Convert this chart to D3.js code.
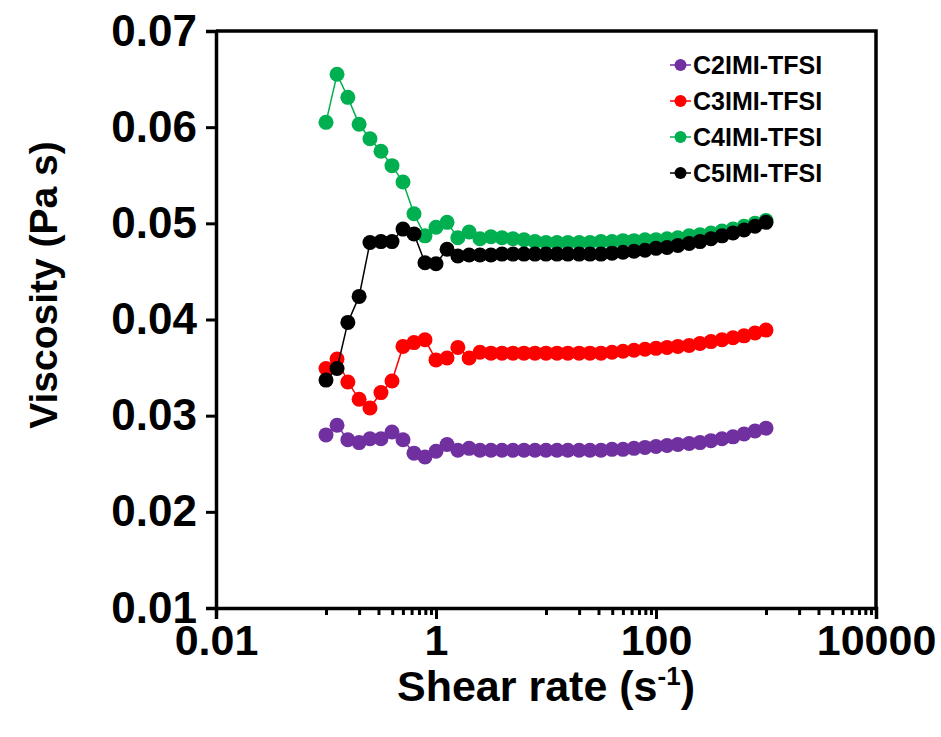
<!DOCTYPE html>
<html>
<head>
<meta charset="utf-8">
<script src="https://cdn.jsdelivr.net/npm/d3@7"></script>
<style>
  body { margin: 0; background: #fff; }
  text { font-family: Arial, 'Liberation Sans', sans-serif; font-weight: bold; }
</style>
</head>
<body>
<svg id="chart" width="941" height="737"></svg>
<script>
// shear rate points (s^-1), 10 per decade
let shearRate = [
  0.1, 0.126, 0.158, 0.2, 0.251, 0.316, 0.398, 0.501, 0.631, 0.794,
  1, 1.26, 1.58, 2, 2.51, 3.16, 3.98, 5.01, 6.31, 7.94,
  10, 12.6, 15.8, 20, 25.1, 31.6, 39.8, 50.1, 63.1, 79.4,
  100, 126, 158, 200, 251, 316, 398, 501, 631, 794, 1000,
]
let c2 = [
  0.0280, 0.0290, 0.0275, 0.0272, 0.0276, 0.0276, 0.0283, 0.0275, 0.0261, 0.0257,
  0.0263, 0.0270, 0.0264, 0.0266, 0.0264, 0.0264, 0.0264, 0.0264, 0.0264, 0.0264,
  0.0264, 0.0264, 0.0264, 0.0264, 0.0264, 0.0264, 0.0265, 0.0265, 0.0266, 0.0267,
  0.0268, 0.0269, 0.0270, 0.0271, 0.0272, 0.0274, 0.0276, 0.0278, 0.0281, 0.0284, 0.0287,
]
let c3 = [
  0.0349, 0.0359, 0.0335, 0.0317, 0.0308, 0.0324, 0.0336, 0.0372, 0.0376, 0.0379,
  0.0358, 0.0360, 0.0371, 0.0360, 0.0366, 0.0365, 0.0365, 0.0365, 0.0365, 0.0365,
  0.0365, 0.0365, 0.0365, 0.0365, 0.0365, 0.0365, 0.0366, 0.0367, 0.0368, 0.0369,
  0.0370, 0.0371, 0.0372, 0.0373, 0.0375, 0.0377, 0.0379, 0.0381, 0.0383, 0.0386, 0.0389,
]
let c4 = [
  0.0605, 0.0655, 0.0631, 0.0603, 0.0588, 0.0575, 0.0560, 0.0543, 0.0510, 0.0487,
  0.0496, 0.0501, 0.0485, 0.0491, 0.0484, 0.0486, 0.0485, 0.0484, 0.0483, 0.0481,
  0.0480, 0.0480, 0.0480, 0.0480, 0.0480, 0.0481, 0.0481, 0.0482, 0.0482, 0.0483,
  0.0483, 0.0484, 0.0485, 0.0487, 0.0488, 0.0490, 0.0492, 0.0494, 0.0497, 0.0500, 0.0503,
]
let c5 = [
  0.0337, 0.0349, 0.0397, 0.0424, 0.0480, 0.0481, 0.0481, 0.0494, 0.0489, 0.0459,
  0.0458, 0.0473, 0.0466, 0.0467, 0.0467, 0.0467, 0.0468, 0.0468, 0.0468, 0.0468,
  0.0468, 0.0468, 0.0468, 0.0468, 0.0468, 0.0468, 0.0469, 0.0470, 0.0471, 0.0472,
  0.0474, 0.0475, 0.0477, 0.0479, 0.0481, 0.0484, 0.0487, 0.0490, 0.0493, 0.0497, 0.0501,
]
let seriesNames = ['C2IMI-TFSI', 'C3IMI-TFSI', 'C4IMI-TFSI', 'C5IMI-TFSI']
let seriesColors = ['#7030a0', '#ff0000', '#00b050', '#000000']
let xMajor = [0.01, 1, 100, 10000]
let xMinor = [0.1, 0.2, 0.3, 0.4, 0.5, 0.6, 0.7, 0.8, 0.9,
  10, 20, 30, 40, 50, 60, 70, 80, 90,
  1000, 2000, 3000, 4000, 5000, 6000, 7000, 8000, 9000]
let yTicks = [0.01, 0.02, 0.03, 0.04, 0.05, 0.06, 0.07]

let series = [c2, c3, c4, c5].map(function(vals, i) {
  return {
    name: seriesNames[i],
    color: seriesColors[i],
    values: vals.map(function(v, j) { return { x: shearRate[j], y: v } }),
  }
})

let margin = { left: 216, top: 31, right: 65, bottom: 129 }
let svg = d3.select('#chart')
let W = +svg.attr('width') - margin.left - margin.right
let H = +svg.attr('height') - margin.top - margin.bottom

let x = d3.scaleLog().domain([0.01, 10000]).range([0, W])
let y = d3.scaleLinear().domain([0.01, 0.07]).range([H, 0])

let g = svg.append('g').attr('transform', 'translate(' + margin.left + ',' + margin.top + ')')

// plot frame (top + right)
g.append('path')
  .attr('d', 'M0,0H' + W + 'V' + H)
  .attr('fill', 'none')
  .attr('stroke', '#000')
  .attr('stroke-width', 3.5)

let tickFont = function(sel, size) {
  sel.style('font-size', size + 'px')
    .style('font-family', 'Arial, Liberation Sans, sans-serif')
    .style('font-weight', 'bold')
    .attr('fill', '#000')
}

// y axis
let yAxis = g.append('g')
  .call(d3.axisLeft(y).tickValues(yTicks).tickSize(10).tickFormat(d3.format('.2f')))
yAxis.select('.domain').attr('stroke-width', 3.5)
yAxis.selectAll('.tick line').attr('stroke-width', 3)
yAxis.selectAll('.tick text')
  .attr('x', -19)
  .call(tickFont, 44)

// x axis, minor ticks first
let xg = g.append('g').attr('transform', 'translate(0,' + H + ')')
xg.append('g')
  .call(d3.axisBottom(x).tickValues(xMinor).tickSize(7).tickFormat(''))
  .call(function(s) { s.select('.domain').remove() })
  .selectAll('.tick line').attr('stroke-width', 3)
let xAxis = xg.append('g')
  .call(d3.axisBottom(x).tickValues(xMajor).tickSize(11).tickFormat(function(d) { return d >= 1 ? d3.format('d')(d) : String(d) }))
xAxis.select('.domain').attr('stroke-width', 3.5)
xAxis.selectAll('.tick line').attr('stroke-width', 3)
xAxis.selectAll('.tick text')
  .attr('y', 16)
  .call(tickFont, 43)

// series
let line = d3.line()
  .x(function(d) { return x(d.x) })
  .y(function(d) { return y(d.y) })

let sg = g.selectAll('.series')
  .data(series)
  .enter()
  .append('g')
  .attr('class', 'series')

sg.append('path')
  .attr('d', function(d) { return line(d.values) })
  .attr('fill', 'none')
  .attr('stroke', function(d) { return d.color })
  .attr('stroke-width', 1.5)

sg.selectAll('circle')
  .data(function(d) { return d.values.map(function(v) { return { x: v.x, y: v.y, color: d.color } }) })
  .enter()
  .append('circle')
  .attr('cx', function(d) { return x(d.x) })
  .attr('cy', function(d) { return y(d.y) })
  .attr('r', 7.5)
  .attr('fill', function(d) { return d.color })

// legend
let lg = svg.append('g').attr('transform', 'translate(670,65)')
let item = lg.selectAll('.legend-item')
  .data(series)
  .enter()
  .append('g')
  .attr('class', 'legend-item')
  .attr('transform', function(d, i) { return 'translate(0,' + i * 36 + ')' })
item.append('line')
  .attr('x1', 0).attr('x2', 21)
  .attr('stroke', function(d) { return d.color })
  .attr('stroke-width', 1.5)
item.append('circle')
  .attr('cx', 10.5)
  .attr('r', 6)
  .attr('fill', function(d) { return d.color })
item.append('text')
  .attr('x', 23)
  .attr('dy', '0.36em')
  .style('font-size', '25px')
  .text(function(d) { return d.name })

// axis titles
svg.append('text')
  .attr('transform', 'translate(57,285) rotate(-90)')
  .attr('text-anchor', 'middle')
  .style('font-size', '39px')
  .text('Viscosity (Pa s)')

let xt = svg.append('text')
  .attr('x', margin.left + W / 2)
  .attr('y', 701)
  .attr('text-anchor', 'middle')
  .style('font-size', '43px')
xt.append('tspan').text('Shear rate (s')
xt.append('tspan').attr('dy', -16).style('font-size', '26px').text('-1')
xt.append('tspan').attr('dy', 16).text(')')
</script>
</body>
</html>
